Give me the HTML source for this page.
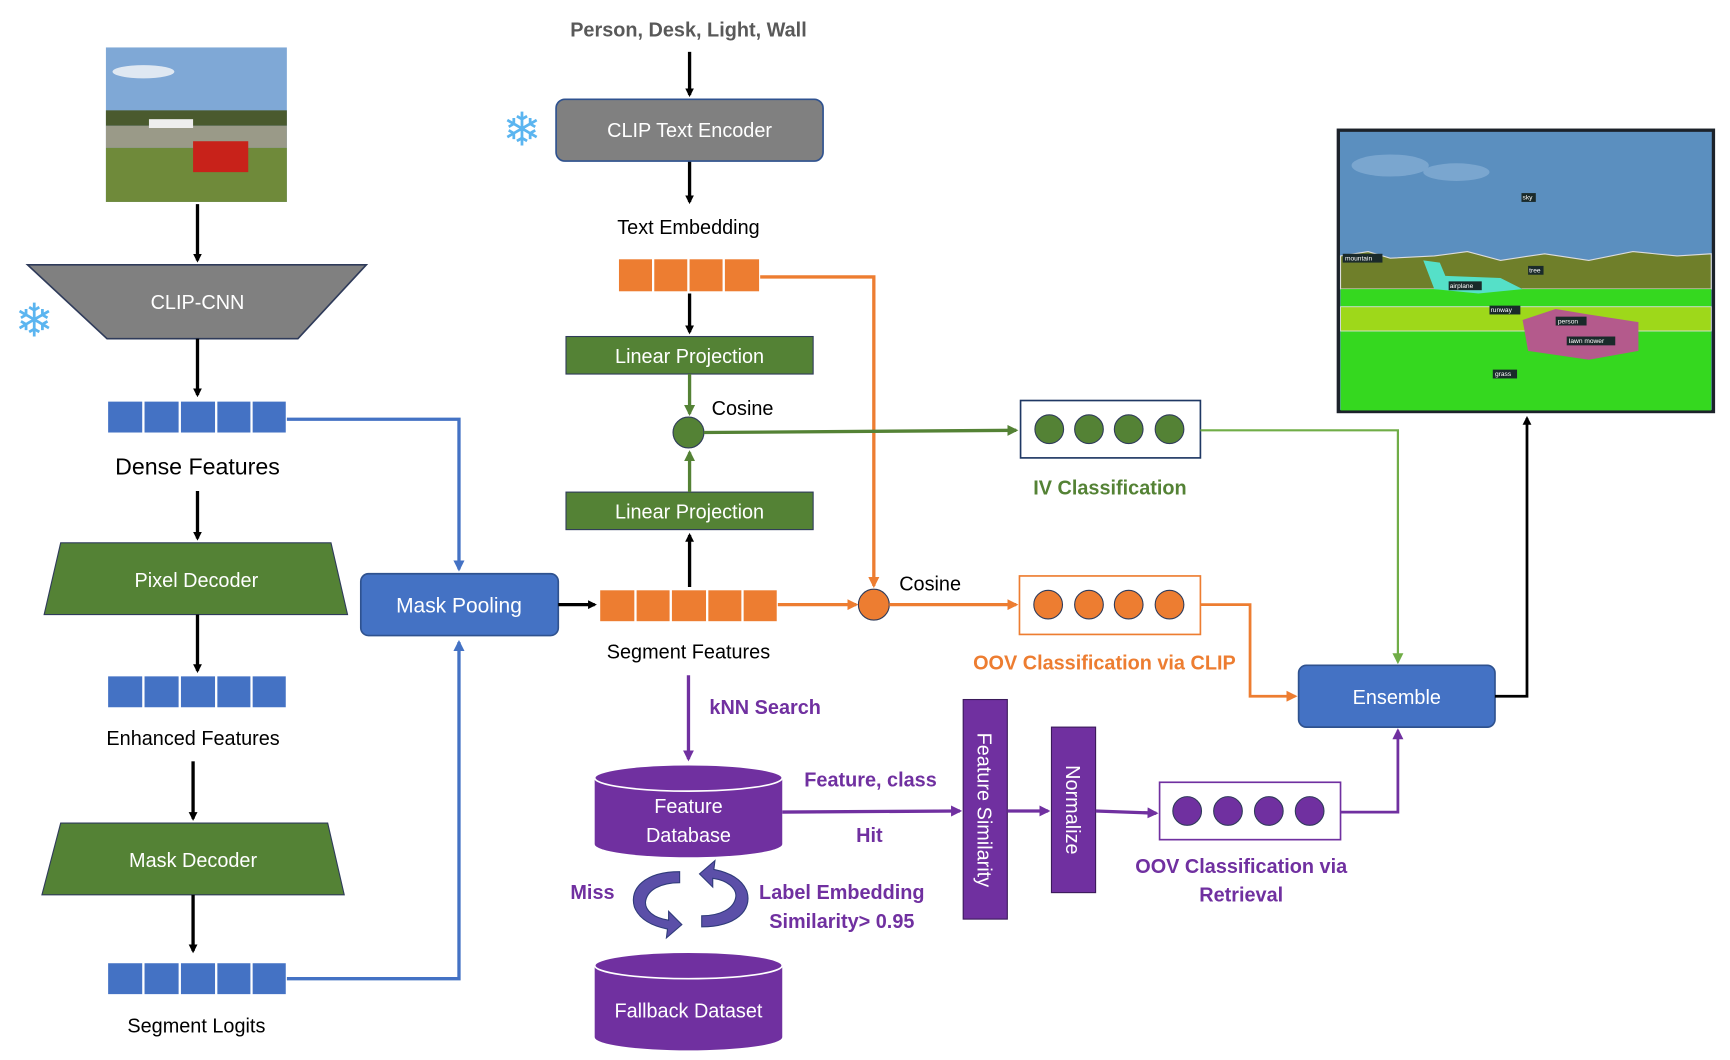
<!DOCTYPE html>
<html><head><meta charset="utf-8"><style>
html,body{margin:0;padding:0;background:#fff;}
svg{display:block;}
text{font-family:"Liberation Sans",sans-serif;}
</style></head><body>
<svg width="1730" height="1060" viewBox="0 0 1568 960.7" preserveAspectRatio="none" xmlns="http://www.w3.org/2000/svg">
<defs>
<marker id="ak" markerWidth="8" markerHeight="8" refX="6" refY="4" orient="auto" markerUnits="userSpaceOnUse"><path d="M0,0 L8,4 L0,8 z" fill="#000"/></marker>
<marker id="ab" markerWidth="10" markerHeight="10" refX="8" refY="5" orient="auto" markerUnits="userSpaceOnUse"><path d="M0,0 L10,5 L0,10 z" fill="#4472c4"/></marker>
<marker id="ao" markerWidth="10" markerHeight="10" refX="8" refY="5" orient="auto" markerUnits="userSpaceOnUse"><path d="M0,0 L10,5 L0,10 z" fill="#ed7d31"/></marker>
<marker id="ag" markerWidth="10" markerHeight="10" refX="8" refY="5" orient="auto" markerUnits="userSpaceOnUse"><path d="M0,0 L10,5 L0,10 z" fill="#548235"/></marker>
<marker id="alg" markerWidth="10" markerHeight="10" refX="8" refY="5" orient="auto" markerUnits="userSpaceOnUse"><path d="M0,0 L10,5 L0,10 z" fill="#70ad47"/></marker>
<marker id="ap" markerWidth="10" markerHeight="10" refX="8" refY="5" orient="auto" markerUnits="userSpaceOnUse"><path d="M0,0 L10,5 L0,10 z" fill="#7030a0"/></marker>
</defs>

<!-- input photo -->
<rect x="96" y="43" width="164" height="140" fill="#7fa8d6"/>
<ellipse cx="130" cy="65" rx="28" ry="6" fill="#dfe8f2"/>
<rect x="96" y="100" width="164" height="14" fill="#4a5a2e"/>
<rect x="96" y="114" width="164" height="20" fill="#9a9a88"/>
<rect x="96" y="134" width="164" height="49" fill="#6f8a3a"/>
<rect x="175" y="128" width="50" height="28" fill="#c8221a"/>
<rect x="135" y="108" width="40" height="8" fill="#eee"/>

<!-- snowflakes -->
<text x="31" y="305" font-size="42" fill="#5bb5f0" text-anchor="middle">❄</text>
<text x="473" y="132" font-size="42" fill="#5bb5f0" text-anchor="middle">❄</text>

<!-- left column -->
<line x1="179" y1="185" x2="179" y2="236" stroke="#000" stroke-width="3" marker-end="url(#ak)"/>
<polygon points="25,240 332,240 270,307 97,307" fill="#808080" stroke="#2f3b5a" stroke-width="1.5"/>
<text x="179" y="280" font-size="18" fill="#fff" text-anchor="middle">CLIP-CNN</text>
<line x1="179" y1="307" x2="179" y2="358" stroke="#000" stroke-width="3" marker-end="url(#ak)"/>
<g fill="#4472c4" stroke="#fff" stroke-width="2">
<rect x="97" y="363" width="33" height="30"/><rect x="130" y="363" width="33" height="30"/><rect x="163" y="363" width="33" height="30"/><rect x="196" y="363" width="32" height="30"/><rect x="228" y="363" width="32" height="30"/>
</g>
<text x="179" y="430" font-size="21" text-anchor="middle">Dense Features</text>
<line x1="179" y1="445" x2="179" y2="488" stroke="#000" stroke-width="3" marker-end="url(#ak)"/>
<polygon points="55,492 300,492 315,557 40,557" fill="#548235" stroke="#2f3b5a" stroke-width="1"/>
<text x="178" y="532" font-size="18" fill="#fff" text-anchor="middle">Pixel Decoder</text>
<line x1="179" y1="557" x2="179" y2="608" stroke="#000" stroke-width="3" marker-end="url(#ak)"/>
<g fill="#4472c4" stroke="#fff" stroke-width="2">
<rect x="97" y="612" width="33" height="30"/><rect x="130" y="612" width="33" height="30"/><rect x="163" y="612" width="33" height="30"/><rect x="196" y="612" width="32" height="30"/><rect x="228" y="612" width="32" height="30"/>
</g>
<text x="175" y="675" font-size="18" text-anchor="middle">Enhanced Features</text>
<line x1="175" y1="690" x2="175" y2="742" stroke="#000" stroke-width="3" marker-end="url(#ak)"/>
<polygon points="55,746 297,746 312,811 38,811" fill="#548235" stroke="#2f3b5a" stroke-width="1"/>
<text x="175" y="786" font-size="18" fill="#fff" text-anchor="middle">Mask Decoder</text>
<line x1="175" y1="811" x2="175" y2="862" stroke="#000" stroke-width="3" marker-end="url(#ak)"/>
<g fill="#4472c4" stroke="#fff" stroke-width="2">
<rect x="97" y="872" width="33" height="30"/><rect x="130" y="872" width="33" height="30"/><rect x="163" y="872" width="33" height="30"/><rect x="196" y="872" width="32" height="30"/><rect x="228" y="872" width="32" height="30"/>
</g>
<text x="178" y="936" font-size="18" text-anchor="middle">Segment Logits</text>

<!-- blue connectors -->
<polyline points="260,380 416,380 416,516" fill="none" stroke="#4472c4" stroke-width="3" marker-end="url(#ab)"/>
<polyline points="260,887 416,887 416,582" fill="none" stroke="#4472c4" stroke-width="3" marker-end="url(#ab)"/>
<rect x="327" y="520" width="179" height="56" rx="7" fill="#4472c4" stroke="#2f528f" stroke-width="1.5"/>
<text x="416" y="555" font-size="19" fill="#fff" text-anchor="middle">Mask Pooling</text>
<line x1="506" y1="548" x2="539" y2="548" stroke="#000" stroke-width="3" marker-end="url(#ak)"/>

<!-- segment features -->
<g fill="#ed7d31" stroke="#fff" stroke-width="2">
<rect x="543" y="534" width="33" height="30"/><rect x="576" y="534" width="32" height="30"/><rect x="608" y="534" width="33" height="30"/><rect x="641" y="534" width="32" height="30"/><rect x="673" y="534" width="32" height="30"/>
</g>
<text x="624" y="597" font-size="18" text-anchor="middle">Segment Features</text>
<line x1="625" y1="532" x2="625" y2="485" stroke="#000" stroke-width="3" marker-end="url(#ak)"/>
<rect x="513" y="446" width="224" height="34" fill="#548235" stroke="#2f3b5a" stroke-width="1"/>
<text x="625" y="470" font-size="18" fill="#fff" text-anchor="middle">Linear Projection</text>
<line x1="625" y1="446" x2="625" y2="410" stroke="#548235" stroke-width="3" marker-end="url(#ag)"/>
<circle cx="624" cy="392" r="14" fill="#548235" stroke="#2f3b5a" stroke-width="1"/>
<text x="645" y="376" font-size="18">Cosine</text>
<rect x="513" y="305" width="224" height="34" fill="#548235" stroke="#2f3b5a" stroke-width="1"/>
<text x="625" y="329" font-size="18" fill="#fff" text-anchor="middle">Linear Projection</text>
<line x1="625" y1="339" x2="625" y2="375" stroke="#548235" stroke-width="3" marker-end="url(#ag)"/>
<line x1="625" y1="265" x2="625" y2="301" stroke="#000" stroke-width="3" marker-end="url(#ak)"/>
<g fill="#ed7d31" stroke="#fff" stroke-width="2">
<rect x="560" y="234" width="32" height="31"/><rect x="592" y="234" width="32" height="31"/><rect x="624" y="234" width="32" height="31"/><rect x="656" y="234" width="33" height="31"/>
</g>
<text x="624" y="212" font-size="18" text-anchor="middle">Text Embedding</text>
<line x1="625" y1="146" x2="625" y2="183" stroke="#000" stroke-width="3" marker-end="url(#ak)"/>
<rect x="504" y="90" width="242" height="56" rx="8" fill="#808080" stroke="#2f528f" stroke-width="1.5"/>
<text x="625" y="124" font-size="18" fill="#fff" text-anchor="middle">CLIP Text Encoder</text>
<line x1="625" y1="47" x2="625" y2="86" stroke="#000" stroke-width="3" marker-end="url(#ak)"/>
<text x="624" y="33" font-size="18" font-weight="bold" fill="#595959" text-anchor="middle">Person, Desk, Light, Wall</text>

<!-- orange path -->
<polyline points="689,251 792,251 792,531" fill="none" stroke="#ed7d31" stroke-width="3" marker-end="url(#ao)"/>
<line x1="705" y1="548" x2="776" y2="548" stroke="#ed7d31" stroke-width="3" marker-end="url(#ao)"/>
<circle cx="792" cy="548" r="14" fill="#ed7d31" stroke="#2f3b5a" stroke-width="1"/>
<text x="815" y="535" font-size="18">Cosine</text>
<line x1="806" y1="548" x2="921" y2="548" stroke="#ed7d31" stroke-width="3" marker-end="url(#ao)"/>
<line x1="638" y1="392" x2="921" y2="390" stroke="#548235" stroke-width="3" marker-end="url(#ag)"/>

<!-- IV box -->
<rect x="925" y="363" width="163" height="52" fill="#fff" stroke="#1f3864" stroke-width="1.5"/>
<g fill="#548235" stroke="#2f3b5a" stroke-width="1"><circle cx="951" cy="389" r="13"/><circle cx="987" cy="389" r="13"/><circle cx="1023" cy="389" r="13"/><circle cx="1060" cy="389" r="13"/></g>
<text x="1006" y="448" font-size="18" font-weight="bold" fill="#548235" text-anchor="middle">IV Classification</text>
<!-- OOV box -->
<rect x="924" y="522" width="164" height="53" fill="#fff" stroke="#ed7d31" stroke-width="1.5"/>
<g fill="#ed7d31" stroke="#2f3b5a" stroke-width="1"><circle cx="950" cy="548" r="13"/><circle cx="987" cy="548" r="13"/><circle cx="1023" cy="548" r="13"/><circle cx="1060" cy="548" r="13"/></g>
<text x="1001" y="607" font-size="18" font-weight="bold" fill="#ed7d31" text-anchor="middle">OOV Classification via CLIP</text>
<polyline points="1088,548 1133,548 1133,631 1174,631" fill="none" stroke="#ed7d31" stroke-width="2.5" marker-end="url(#ao)"/>
<polyline points="1088,390 1267,390 1267,600" fill="none" stroke="#70ad47" stroke-width="2" marker-end="url(#alg)"/>
<rect x="1177" y="603" width="178" height="56" rx="7" fill="#4472c4" stroke="#2f528f" stroke-width="1.5"/>
<text x="1266" y="638" font-size="18" fill="#fff" text-anchor="middle">Ensemble</text>
<polyline points="1355,631 1384,631 1384,379" fill="none" stroke="#000" stroke-width="2.5" marker-end="url(#ak)"/>

<!-- right image -->
<rect x="1213" y="118" width="340" height="255" fill="#5b8fbf" stroke="#1c222a" stroke-width="3"/>
<ellipse cx="1260" cy="150" rx="35" ry="10" fill="#7aa6cf"/>
<ellipse cx="1320" cy="156" rx="30" ry="8" fill="#7aa6cf"/>
<path d="M1215,232 L1240,228 L1260,234 L1300,232 L1330,228 L1360,236 L1400,230 L1440,236 L1480,228 L1520,232 L1551,230 L1551,262 L1215,262 Z" fill="#6f7f2a" stroke="#ddd" stroke-width="1"/>
<rect x="1215" y="262" width="336" height="110" fill="#35d81f"/>
<rect x="1215" y="278" width="336" height="22" fill="#9ed81a" stroke="#ddd" stroke-width="0.8"/>
<path d="M1290,236 L1305,238 L1310,250 L1360,252 L1380,262 L1340,266 L1300,262 Z" fill="#55e0c8"/>
<path d="M1380,290 L1410,280 L1440,285 L1485,292 L1485,318 L1440,326 L1385,318 Z" fill="#b45a8c"/>
<g font-size="6" fill="#fff"><rect x="1217" y="230" width="36" height="8" fill="#1a2a2a"/><text x="1219" y="236">mountain</text>
<rect x="1379" y="175" width="13" height="8" fill="#1a2a2a"/><text x="1380" y="181">sky</text>
<rect x="1385" y="241" width="14" height="8" fill="#1a2a2a"/><text x="1386" y="247">tree</text>
<rect x="1313" y="255" width="30" height="8" fill="#1a2a2a"/><text x="1314" y="261">airplane</text>
<rect x="1350" y="277" width="28" height="8" fill="#1a2a2a"/><text x="1351" y="283">runway</text>
<rect x="1410" y="287" width="28" height="8" fill="#1a2a2a"/><text x="1412" y="293">person</text>
<rect x="1420" y="305" width="44" height="8" fill="#1a2a2a"/><text x="1422" y="311">lawn mower</text>
<rect x="1353" y="335" width="22" height="8" fill="#1a2a2a"/><text x="1355" y="341">grass</text></g>

<!-- retrieval branch -->
<line x1="624" y1="612" x2="624" y2="688" stroke="#7030a0" stroke-width="3" marker-end="url(#ap)"/>
<text x="643" y="647" font-size="18" font-weight="bold" fill="#7030a0">kNN Search</text>
<path d="M539,705 L539,765 A85,12 0 0 0 709,765 L709,705 Z" fill="#7030a0"/>
<ellipse cx="624" cy="705" rx="85" ry="12" fill="#7030a0" stroke="#fff" stroke-width="1.5"/>
<text x="624" y="737" font-size="18" fill="#fff" text-anchor="middle">Feature</text>
<text x="624" y="763" font-size="18" fill="#fff" text-anchor="middle">Database</text>
<line x1="709" y1="736" x2="870" y2="735" stroke="#7030a0" stroke-width="3" marker-end="url(#ap)"/>
<text x="789" y="713" font-size="18" font-weight="bold" fill="#7030a0" text-anchor="middle">Feature, class</text>
<text x="788" y="763" font-size="18" font-weight="bold" fill="#7030a0" text-anchor="middle">Hit</text>
<rect x="873" y="634" width="40" height="199" fill="#7030a0" stroke="#3b1a5a" stroke-width="1"/>
<text transform="translate(886,734) rotate(90)" font-size="18" fill="#fff" text-anchor="middle">Feature Similarity</text>
<line x1="913" y1="735" x2="950" y2="735" stroke="#7030a0" stroke-width="3" marker-end="url(#ap)"/>
<rect x="953" y="659" width="40" height="150" fill="#7030a0" stroke="#3b1a5a" stroke-width="1"/>
<text transform="translate(966,734) rotate(90)" font-size="18" fill="#fff" text-anchor="middle">Normalize</text>
<line x1="993" y1="735" x2="1048" y2="737" stroke="#7030a0" stroke-width="3" marker-end="url(#ap)"/>
<rect x="1051" y="709" width="164" height="52" fill="#fff" stroke="#7030a0" stroke-width="1.5"/>
<g fill="#7030a0" stroke="#2f3b5a" stroke-width="1"><circle cx="1076" cy="735" r="13"/><circle cx="1113" cy="735" r="13"/><circle cx="1150" cy="735" r="13"/><circle cx="1187" cy="735" r="13"/></g>
<text x="1125" y="791" font-size="18" font-weight="bold" fill="#7030a0" text-anchor="middle">OOV Classification via</text>
<text x="1125" y="817" font-size="18" font-weight="bold" fill="#7030a0" text-anchor="middle">Retrieval</text>
<polyline points="1215,736 1267,736 1267,662" fill="none" stroke="#7030a0" stroke-width="2.5" marker-end="url(#ap)"/>

<!-- cycle arrows -->
<path d="M616,790 C585,790 570,805 575,822 C580,835 595,840 605,842 L604,850 L618,838 L606,826 L606,834 C592,832 585,825 585,818 C586,806 600,800 616,800 Z" fill="#5b4fa8" stroke="#2f3b7a" stroke-width="1"/>
<path d="M636,840 C667,840 682,825 677,808 C672,795 657,790 647,788 L648,780 L634,792 L646,804 L646,796 C660,798 667,805 667,812 C666,824 652,830 636,830 Z" fill="#5b4fa8" stroke="#2f3b7a" stroke-width="1"/>
<text x="537" y="815" font-size="18" font-weight="bold" fill="#7030a0" text-anchor="middle">Miss</text>
<text x="763" y="815" font-size="18" font-weight="bold" fill="#7030a0" text-anchor="middle">Label Embedding</text>
<text x="763" y="841" font-size="18" font-weight="bold" fill="#7030a0" text-anchor="middle">Similarity&gt; 0.95</text>
<path d="M539,875 L539,940 A85,12 0 0 0 709,940 L709,875 Z" fill="#7030a0"/>
<ellipse cx="624" cy="875" rx="85" ry="12" fill="#7030a0" stroke="#fff" stroke-width="1.5"/>
<text x="624" y="922" font-size="18" fill="#fff" text-anchor="middle">Fallback Dataset</text>
</svg>
</body></html>
